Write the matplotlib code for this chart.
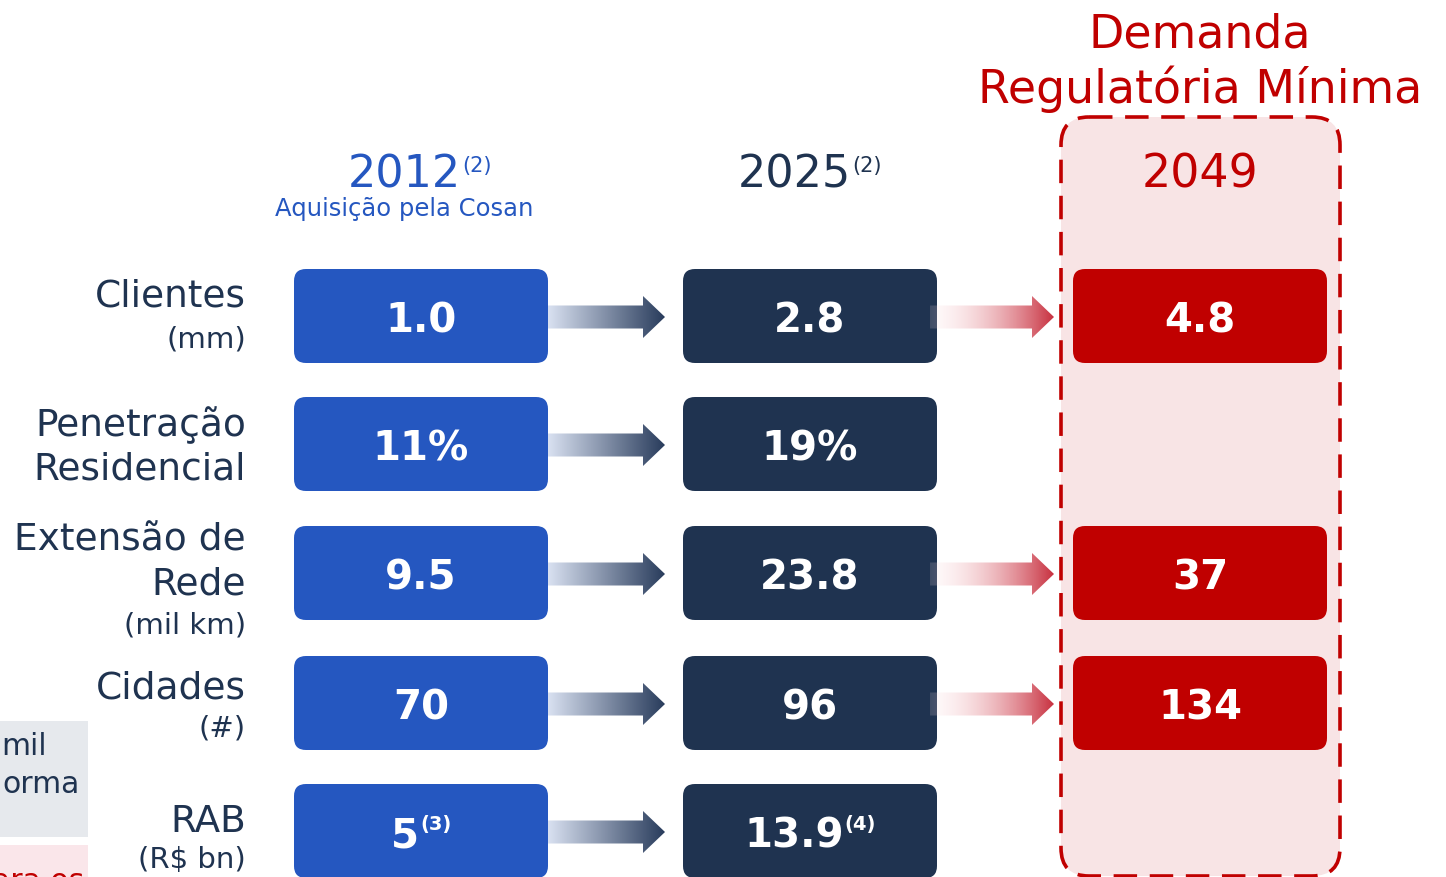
import numpy as np
import matplotlib.pyplot as plt
from matplotlib.patches import FancyBboxPatch, Polygon, Rectangle
from matplotlib.colors import to_rgb

plt.rcParams['font.family'] = ['DejaVu Sans']

# dados
anos = ['2012', '2025', '2049']
anos_nota = ['(2)', '(2)', '']
subtitulo = 'Aquisição pela Cosan'
titulo = ['Demanda', 'Regulatória Mínima']
rotulos = [['Clientes', '(mm)'],
           ['Penetração', 'Residencial'],
           ['Extensão de', 'Rede', '(mil km)'],
           ['Cidades', '(#)'],
           ['RAB', '(R$ bn)']]
v2012 = ['1.0', '11%', '9.5', '70', '5']
v2025 = ['2.8', '19%', '23.8', '96', '13.9']
v2049 = ['4.8', None, '37', '134', None]
nota2012 = ['', '', '', '', '(3)']
nota2025 = ['', '', '', '', '(4)']
lateral = ['mil', 'orma']
lateral_verm = 'ara os'

AZUL = '#2557C0'
NAVY = '#1F3350'
VERM = '#C00000'

fig = plt.figure(figsize=(14.46, 8.78), dpi=100)
ax = fig.add_axes([0, 0, 1, 1])
ax.set_xlim(0, 1446)
ax.set_ylim(878, 0)
ax.axis('off')
r = fig.canvas.get_renderer()

col_x = [294, 683, 1073]      # borda esquerda das caixas
box_w, box_h = 254, 94
row_c = [317, 445, 574, 704, 832]


def largura(t):
    return t.get_window_extent(r).width


def texto_nota(xc, y, main, nota, size, nsize, color, weight, dy):
    # texto + nota sobrescrita, centrados juntos em xc
    t = ax.text(0, y, main, fontsize=size, color=color, weight=weight,
                ha='left', va='baseline', zorder=5)
    n = None
    if nota:
        n = ax.text(0, y - dy, nota, fontsize=nsize, color=color, weight=weight,
                    ha='left', va='baseline', zorder=5)
    w1 = largura(t)
    w2 = largura(n) + 1 if n else 0
    x0 = xc - (w1 + w2) / 2
    t.set_x(x0)
    if n:
        n.set_x(x0 + w1 + 1)


def seta(x0, x1, yc, c0, c1, a0, a1):
    sh, hh, hl = 11.5, 21, 22
    pts = [(x0, yc - sh), (x1 - hl, yc - sh), (x1 - hl, yc - hh), (x1, yc),
           (x1 - hl, yc + hh), (x1 - hl, yc + sh), (x0, yc + sh)]
    poly = Polygon(pts, closed=True, fc='none', ec='none')
    ax.add_patch(poly)
    f = np.linspace(0, 1, 200)
    c0, c1 = np.array(to_rgb(c0)), np.array(to_rgb(c1))
    img = np.zeros((2, 200, 4))
    img[..., :3] = c0 + (c1 - c0) * f[:, None]
    img[..., 3] = a0 + (a1 - a0) * f
    im = ax.imshow(img, extent=(x0, x1, yc + hh, yc - hh), aspect='auto',
                   interpolation='bilinear', zorder=4)
    im.set_clip_path(poly)


# caixa tracejada 2049
ax.add_patch(FancyBboxPatch((1061, 118), 279, 759,
                            boxstyle='round,pad=0,rounding_size=28',
                            fc='#F8E4E5', ec=VERM, lw=2.6,
                            ls=(0, (6.5, 3.5)), zorder=1))

# blocos laterais cortados
ax.add_patch(Rectangle((0, 722), 88, 116, fc='#E6E9ED', ec='none'))
ax.add_patch(Rectangle((0, 846), 88, 40, fc='#FAE6EA', ec='none'))
ax.text(47, 755, lateral[0], fontsize=21.5, color=NAVY, ha='right', va='baseline')
ax.text(80, 793, lateral[1], fontsize=21.5, color=NAVY, ha='right', va='baseline')
ax.text(84, 890, lateral_verm, fontsize=21.5, color=VERM, ha='right', va='baseline')

# cabeçalhos
cores_ano = [AZUL, NAVY, VERM]
hdr_x = [420, 810, 1200]
hdr_s = [32, 32, 33]
for i, ano in enumerate(anos):
    texto_nota(hdr_x[i], 187, ano, anos_nota[i], hdr_s[i], 15, cores_ano[i],
               'normal', 15)
ax.text(404, 216, subtitulo, fontsize=17.5, color=AZUL,
        ha='center', va='baseline')
ax.text(1200, 47, titulo[0], fontsize=33, color=VERM,
        ha='center', va='baseline')
ax.text(1200, 103, titulo[1], fontsize=33, color=VERM,
        ha='center', va='baseline')

# rótulos das linhas
lin_y = [[307, 348], [436, 480], [551, 595, 634], [699, 737], [832, 868]]
for i, linhas in enumerate(rotulos):
    for j, s in enumerate(linhas):
        pequeno = s.startswith('(')
        ax.text(246, lin_y[i][j], s, fontsize=21 if pequeno else 27,
                color=NAVY, ha='right', va='baseline')

# caixas e valores
colunas = [(v2012, nota2012, AZUL), (v2025, nota2025, NAVY), (v2049, None, VERM)]
for k, (vals, notas, cor) in enumerate(colunas):
    for i, v in enumerate(vals):
        if v is None:
            continue
        yc = row_c[i]
        ax.add_patch(FancyBboxPatch((col_x[k], yc - box_h / 2), box_w, box_h,
                                    boxstyle='round,pad=0,rounding_size=12',
                                    fc=cor, ec='none', zorder=2))
        nota = notas[i] if notas else ''
        texto_nota(col_x[k] + box_w / 2, yc + 16, v, nota, 29, 14, 'white',
                   'bold', 18)

# setas
for i in range(len(rotulos)):
    seta(548, 665, row_c[i] + 1, '#D9E1F1', '#293C5C', 1, 1)
    if v2049[i] is not None:
        seta(930, 1054, row_c[i] + 1, '#FFE8EA', '#C8303F', 0.15, 1)

ax.set_xlim(0, 1446)
ax.set_ylim(878, 0)
fig.savefig('out.png', dpi=100)
